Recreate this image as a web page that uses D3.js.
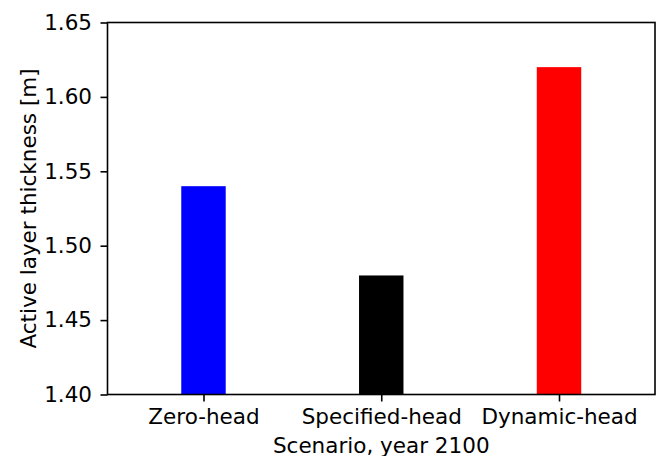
<!DOCTYPE html>
<html>
<head>
<meta charset="utf-8">
<script src="https://cdn.jsdelivr.net/npm/d3@7"></script>
<style>
  html, body { margin: 0; padding: 0; background: #fff; }
  svg { display: block; font-family: "DejaVu Sans", sans-serif; }
</style>
</head>
<body>
<svg id="chart" width="659" height="456"></svg>
<script>
// Active layer thickness by boundary-condition scenario
const scenarios = ["Zero-head", "Specified-head", "Dynamic-head"];
const thickness = [1.54, 1.48, 1.62];
const barColors = ["#0000ff", "#000000", "#ff0000"];
const yTicks = [1.40, 1.45, 1.50, 1.55, 1.60, 1.65];

const svg = d3.select("#chart");
const margin = { left: 107.5, right: 4, top: 22.5, bottom: 61.5 };
const W = 659, H = 456;
const fontSize = 21.5;
const tickLen = 7;

const x = d3.scaleLinear()
  .domain([-0.54, scenarios.length - 1 + 0.54])
  .range([margin.left, W - margin.right]);
const y = d3.scaleLinear()
  .domain([1.40, 1.65])
  .range([H - margin.bottom, margin.top]);
const barWidth = 0.25;

// bars
svg.append("g")
  .selectAll("rect")
  .data(thickness)
  .join("rect")
  .attr("x", (d, i) => x(i - barWidth / 2))
  .attr("width", (d, i) => x(i + barWidth / 2) - x(i - barWidth / 2))
  .attr("y", d => y(d))
  .attr("height", d => y(1.40) - y(d))
  .attr("fill", (d, i) => barColors[i]);

// y axis
const yAxis = d3.axisLeft(y)
  .tickValues(yTicks)
  .tickFormat(d3.format(".2f"))
  .tickSizeInner(tickLen)
  .tickSizeOuter(0)
  .tickPadding(8.5);
const gy = svg.append("g")
  .attr("transform", `translate(${margin.left},0)`)
  .call(yAxis);

// x axis
const xAxis = d3.axisBottom(x)
  .tickValues(scenarios.map((d, i) => i))
  .tickFormat(i => scenarios[i])
  .tickSizeInner(tickLen)
  .tickSizeOuter(0)
  .tickPadding(7.7);
const gx = svg.append("g")
  .attr("transform", `translate(0,${H - margin.bottom})`)
  .call(xAxis);

[gx, gy].forEach(g => {
  g.select(".domain").remove();
  g.selectAll(".tick line").attr("stroke", "#000").attr("stroke-width", 1.6);
  g.selectAll(".tick text")
    .attr("fill", "#000")
    .style("font-size", fontSize + "px")
    .style("font-family", "DejaVu Sans, sans-serif");
});

// plot frame
svg.append("rect")
  .attr("x", margin.left)
  .attr("y", margin.top)
  .attr("width", W - margin.right - margin.left)
  .attr("height", H - margin.bottom - margin.top)
  .attr("fill", "none")
  .attr("stroke", "#000")
  .attr("stroke-width", 1.6);

// axis titles
svg.append("text")
  .attr("x", (margin.left + W - margin.right) / 2)
  .attr("y", 452.5)
  .attr("text-anchor", "middle")
  .style("font-size", fontSize + "px")
  .text("Scenario, year 2100");

svg.append("text")
  .attr("transform", `translate(36,${(margin.top + H - margin.bottom) / 2}) rotate(-90)`)
  .attr("text-anchor", "middle")
  .style("font-size", fontSize + "px")
  .text("Active layer thickness [m]");
</script>
</body>
</html>
